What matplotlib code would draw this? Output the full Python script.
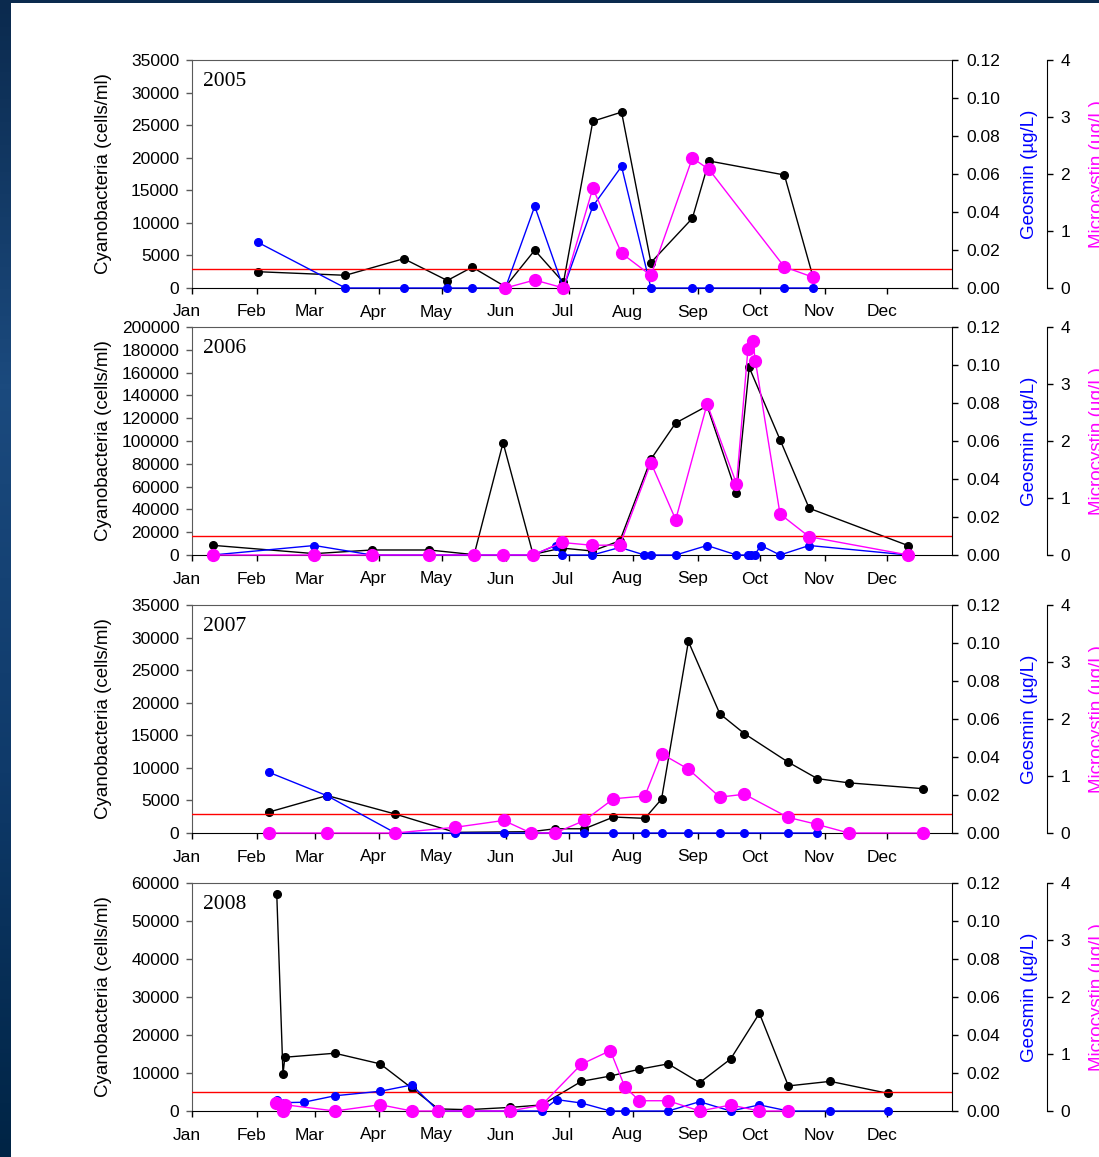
import numpy as np
import matplotlib.pyplot as plt
from matplotlib.transforms import ScaledTranslation, blended_transform_factory
from matplotlib.colors import LinearSegmentedColormap
from matplotlib.ticker import FormatStrFormatter, NullFormatter

plt.rcParams['font.family'] = ['Liberation Sans', 'DejaVu Sans']

# month labels, ticks at day-of-year of month start
months = ['Jan', 'Feb', 'Mar', 'Apr', 'May', 'Jun', 'Jul', 'Aug', 'Sep', 'Oct', 'Nov', 'Dec']
month_starts = [0, 31, 59, 90, 120, 151, 181, 212, 243, 273, 304, 334]

years = ['2005', '2006', '2007', '2008']
cyano_max = [35000, 200000, 35000, 60000]
cyano_step = [5000, 20000, 5000, 10000]
geosmin_limit = 0.01

# 2005
cy05_day = [31.7, 73.7, 101.7, 122.6, 134.6, 150.5, 164.6, 178.4, 192.5, 206.3, 220.4, 240.3, 248.3, 284.5, 298.2]
cy05_val = [2500, 1950, 4500, 1150, 3200, 200, 5800, 850, 25600, 27000, 3900, 10700, 19500, 17350, 1750]
geo05_day = [31.7, 73.7, 101.7, 122.6, 134.6, 150.5, 164.6, 178.4, 192.5, 206.3, 220.4, 240.3, 248.3, 284.5, 298.2]
geo05_val = [0.024, 0, 0, 0, 0, 0, 0.043, 0, 0.043, 0.064, 0, 0, 0, 0, 0]
mc05_day = [150.5, 164.6, 178.4, 192.5, 206.3, 220.4, 240.3, 248.3, 284.5, 298.2]
mc05_val = [0, 0.14, 0, 1.75, 0.61, 0.22, 2.28, 2.08, 0.37, 0.19]

# 2006
cy06_day = [9.9, 58.8, 86.4, 113.9, 135.5, 149.4, 163.8, 177.6, 192.3, 205.5, 220.4, 232.3, 247.4, 261.5, 267.6, 282.4, 296.4, 344]
cy06_val = [8500, 1200, 4400, 4400, 300, 98500, 500, 6100, 3500, 12500, 84000, 115800, 130700, 54100, 164600, 101200, 41000, 8200]
geo06_day = [9.9, 58.8, 86.4, 113.9, 135.5, 149.4, 163.8, 174.6, 177.6, 192.3, 205.5, 217.3, 220.4, 232.3, 247.4, 261.5, 266.8, 268.5, 270.2, 273.2, 282.4, 296.4, 344]
geo06_val = [0, 0.005, 0, 0, 0, 0, 0, 0.005, 0, 0, 0.004, 0, 0, 0, 0.005, 0, 0, 0, 0, 0.005, 0, 0.005, 0]
mc06_day = [9.9, 58.8, 86.4, 113.9, 135.5, 149.4, 163.8, 177.6, 192.3, 205.5, 220.4, 232.3, 247.4, 261.5, 267.0, 269.3, 270.6, 282.4, 296.4, 344]
mc06_val = [0, 0, 0, 0, 0, 0, 0, 0.22, 0.17, 0.175, 1.62, 0.62, 2.65, 1.25, 3.61, 3.76, 3.40, 0.72, 0.32, 0]

# 2007
cy07_day = [36.8, 64.9, 97.7, 126.4, 162.8, 174.4, 188.5, 202.4, 217.5, 225.5, 238.4, 253.5, 265.3, 286.2, 300.3, 315.4, 351.3]
cy07_val = [3200, 5750, 2900, 100, 200, 650, 650, 2450, 2250, 5200, 29400, 18300, 15250, 10900, 8350, 7700, 6800]
geo07_day = [36.8, 64.9, 97.7, 126.4, 149.7, 188.5, 202.4, 217.5, 225.5, 238.4, 253.5, 265.3, 286.2, 300.3]
geo07_val = [0.032, 0.0196, 0, 0, 0, 0, 0, 0, 0, 0, 0, 0, 0, 0]
mc07_day = [36.8, 64.9, 97.7, 126.4, 149.7, 162.8, 174.4, 188.5, 202.4, 217.5, 225.5, 238.4, 253.5, 265.3, 286.2, 300.3, 315.4, 351.3]
mc07_val = [0, 0, 0, 0.10, 0.22, 0, 0, 0.22, 0.60, 0.65, 1.39, 1.12, 0.63, 0.68, 0.275, 0.15, 0, 0]

# 2008
cy08_day = [40.7, 43.7, 44.6, 68.6, 90.4, 105.6, 118.3, 132.4, 152.9, 168, 187, 200.9, 214.9, 228.7, 243.8, 258.7, 272.5, 286.4, 306.5, 334.2]
cy08_val = [57200, 9650, 14150, 15200, 12400, 6000, 550, 350, 950, 1600, 7800, 9200, 11000, 12400, 7450, 13700, 25700, 6600, 7800, 4650]
geo08_day = [40.7, 44.2, 53.6, 68.6, 90.4, 105.6, 118.3, 132.4, 152.9, 168, 175.1, 187, 200.9, 207.9, 228.7, 243.8, 258.7, 272.5, 286.4, 306.5, 334.2]
geo08_val = [0.0056, 0.0044, 0.0046, 0.008, 0.0104, 0.0137, 0, 0, 0, 0, 0.006, 0.0042, 0, 0, 0, 0.0049, 0, 0.0032, 0, 0, 0]
mc08_day = [40.3, 43.9, 44.6, 68.6, 90.4, 105.6, 118.3, 132.4, 152.9, 168, 187, 200.9, 207.9, 214.9, 228.7, 243.8, 258.7, 272.5, 286.4]
mc08_val = [0.14, 0, 0.11, 0, 0.11, 0, 0, 0, 0, 0.105, 0.82, 1.06, 0.42, 0.18, 0.18, 0, 0.105, 0, 0]

cyano = [(cy05_day, cy05_val), (cy06_day, cy06_val), (cy07_day, cy07_val), (cy08_day, cy08_val)]
geosmin = [(geo05_day, geo05_val), (geo06_day, geo06_val), (geo07_day, geo07_val), (geo08_day, geo08_val)]
micro = [(mc05_day, mc05_val), (mc06_day, mc06_val), (mc07_day, mc07_val), (mc08_day, mc08_val)]

W, H = 1099, 1157
fig = plt.figure(figsize=(W / 100, H / 100), dpi=100)
fig.patch.set_facecolor('white')

# slide background strips (left and top)
cmap = LinearSegmentedColormap.from_list('bg', ['#0b2a4e', '#1b4a7e', '#0f3a6a', '#002445'])
bg = fig.add_axes([0, 0, 11 / W, 1])
bg.imshow(np.linspace(0, 1, 256)[:, None], aspect='auto', cmap=cmap, extent=[0, 1, 1, 0])
bg.axis('off')
top = fig.add_axes([0, 1 - 3 / H, 1, 3 / H])
top.axis('off')
top.add_patch(plt.Rectangle((0, 0), 1, 1, color='#0b2a4e', transform=top.transAxes))

left = 192 / W
width = 760 / W
ph = 228 / H
bottoms_px = [288, 555, 833, 1111]

label_fs = 13.5
tick_fs = 12.5
gray = '#5a5a5a'

for i in range(4):
    b = 1 - bottoms_px[i] / H
    ax = fig.add_axes([left, b, width, ph])
    ax2 = ax.twinx()
    ax3 = ax.twinx()

    # cyanobacteria (left axis)
    ax.plot(cyano[i][0], cyano[i][1], '-o', color='black', lw=1, ms=5.5, clip_on=False, zorder=3)
    ax.set_xlim(0, 365)
    ax.set_ylim(0, cyano_max[i])
    ax.set_yticks(np.arange(0, cyano_max[i] + 1, cyano_step[i]))
    ax.set_xticks(month_starts)
    ax.xaxis.set_major_formatter(NullFormatter())
    # month names sit a little left of their tick
    mtrans = blended_transform_factory(ax.transData, ax.transAxes) + \
        ScaledTranslation(-5.5 / 100, -16.5 / 100, fig.dpi_scale_trans)
    for d, m in zip(month_starts, months):
        ax.text(d, 0, m, transform=mtrans, ha='center', va='top', fontsize=tick_fs)
    ax.tick_params(axis='both', labelsize=tick_fs, direction='out', length=4, width=1)
    ax.tick_params(axis='y', pad=5, color=gray)
    ax.spines['left'].set_color(gray)
    ax.spines['top'].set_color(gray)
    ax.spines['right'].set_visible(False)
    ax.text((104 - 192) / 760, 0.5, 'Cyanobacteria (cells/ml)', transform=ax.transAxes,
            rotation=90, ha='center', va='center', fontsize=label_fs)
    ax.text(0.0145, 0.905, years[i], transform=ax.transAxes, ha='left', va='center',
            fontsize=15.5, family='Liberation Serif')

    # geosmin (first right axis)
    ax2.axhline(geosmin_limit, color='red', lw=1, zorder=2)
    ax2.plot(geosmin[i][0], geosmin[i][1], '-o', color='#0000ff', lw=1, ms=5.5, clip_on=False, zorder=4)
    ax2.set_ylim(0, 0.12)
    ax2.set_yticks(np.arange(0, 0.121, 0.02))
    ax2.yaxis.set_major_formatter(FormatStrFormatter('%.2f'))
    ax2.tick_params(axis='y', labelsize=tick_fs, direction='out', length=4, width=1, pad=6.5)
    for s in ['left', 'top', 'bottom']:
        ax2.spines[s].set_visible(False)
    ax2.text((1030 - 192) / 760, 0.5, 'Geosmin (\u00b5g/L)', transform=ax.transAxes,
             rotation=90, ha='center', va='center', fontsize=label_fs, color='#0000ff')

    # microcystin (second right axis), label runs off the right edge as in the slide
    ax3.spines['right'].set_position(('axes', (1047 - 192) / 760))
    ax3.plot(micro[i][0], micro[i][1], '-o', color='#ff00ff', lw=1, ms=8.5, clip_on=False, zorder=5)
    ax3.set_ylim(0, 4)
    ax3.set_yticks(range(0, 5))
    ax3.tick_params(axis='y', labelsize=tick_fs, direction='out', length=4, width=1, pad=5.5)
    for s in ['left', 'top', 'bottom']:
        ax3.spines[s].set_visible(False)
    ax3.text((1097 - 192) / 760, 0.5, 'Microcystin (\u00b5g/L)', transform=ax.transAxes,
             rotation=90, ha='center', va='center', fontsize=label_fs, color='#ff00ff')

fig.savefig('out.png', dpi=100, facecolor='white')
